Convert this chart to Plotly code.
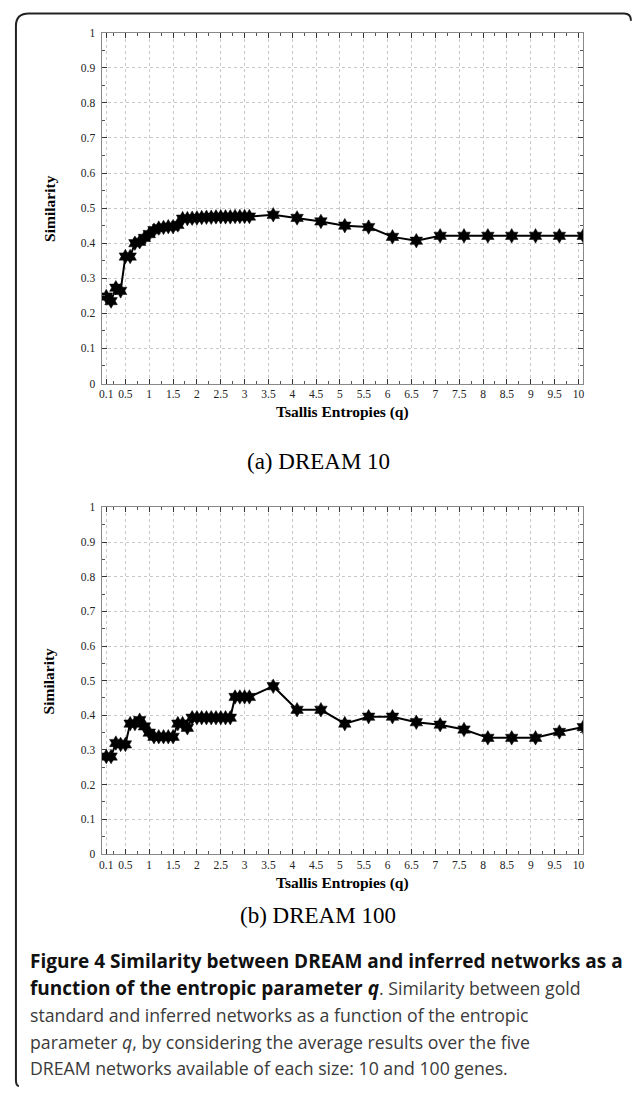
import plotly.graph_objects as go

W, H = 633, 1094

# ---- data ----
q_values = [round(0.1 * i, 1) for i in range(1, 32)] + [3.6, 4.1, 4.6, 5.1, 5.6, 6.1, 6.6, 7.1, 7.6, 8.1, 8.6, 9.1, 9.6, 10.1]

sim_dream10 = [0.248, 0.235, 0.273, 0.264, 0.362, 0.362, 0.400, 0.404, 0.415, 0.426,
               0.437, 0.443, 0.445, 0.447, 0.447, 0.452, 0.470, 0.470, 0.471, 0.472,
               0.473, 0.474, 0.474, 0.475, 0.475, 0.475, 0.475, 0.476, 0.476, 0.476,
               0.476,
               0.481, 0.472, 0.462, 0.450, 0.446, 0.418, 0.407, 0.421, 0.421, 0.421,
               0.421, 0.421, 0.421, 0.421]

sim_dream100 = [0.281, 0.281, 0.320, 0.316, 0.316, 0.376, 0.376, 0.386, 0.368, 0.350,
                0.338, 0.338, 0.338, 0.338, 0.338, 0.376, 0.376, 0.364, 0.393, 0.393,
                0.393, 0.393, 0.393, 0.393, 0.393, 0.393, 0.393, 0.453, 0.453, 0.453,
                0.453,
                0.484, 0.416, 0.416, 0.376, 0.396, 0.396, 0.380, 0.373, 0.359, 0.335,
                0.335, 0.335, 0.352, 0.366]

x_tickvals = [0.1, 0.5, 1, 1.5, 2, 2.5, 3, 3.5, 4, 4.5, 5, 5.5, 6, 6.5, 7, 7.5, 8, 8.5, 9, 9.5, 10]
x_ticktext = ["0.1", "0.5", "1", "1.5", "2", "2.5", "3", "3.5", "4", "4.5", "5", "5.5",
              "6", "6.5", "7", "7.5", "8", "8.5", "9", "9.5", "10"]
x_minor = [0.25 + 0.5 * i for i in range(20)]

panel_labels = ["(a) DREAM 10", "(b) DREAM 100"]
x_title = "Tsallis Entropies (q)"
y_title = "Similarity"

B = '<span style="font-size:19px;fill:#111"><b>%s</b></span>'
caption_lines = [
    B % "Figure 4 Similarity between DREAM and inferred networks as a",
    (B % "function of the entropic parameter <i>q</i>") + ". Similarity between gold",
    "standard and inferred networks as a function of the entropic",
    "parameter <i>q</i>, by considering the average results over the five",
    "DREAM networks available of each size: 10 and 100 genes.",
]

# ---- layout helpers (pixel -> paper) ----
def px(x):
    return x / W

def py(y):
    return 1 - y / H

plot_left, plot_right = 100, 584
panels = [(27, 381.7), (507, 857.3)]
panel_label_y = [461, 920]

fig = go.Figure()

series = [sim_dream10, sim_dream100]
for i, ys in enumerate(series):
    fig.add_trace(go.Scatter(
        x=q_values, y=ys, mode="lines+markers",
        line=dict(color="black", width=2),
        marker=dict(symbol="hexagram", size=11, color="black",
                    line=dict(color="black", width=0.5)),
        xaxis="x" if i == 0 else "x2",
        yaxis="y" if i == 0 else "y2",
        showlegend=False,
    ))

tick_font = dict(family="Liberation Serif", size=11.5, color="#222")
grid_color = "#c8c8c8"

def xaxis_cfg(anchor):
    return dict(
        domain=[px(plot_left), px(plot_right)], anchor=anchor,
        range=[0, 10.1], tickmode="array", tickvals=x_tickvals, ticktext=x_ticktext,
        ticks="inside", ticklen=5, tickcolor="#333", tickwidth=1,
        showline=True, linecolor="#888", linewidth=1, mirror="ticks",
        showgrid=True, gridcolor=grid_color, griddash="dot", gridwidth=1,
        zeroline=False, tickfont=tick_font, ticklabelstandoff=0,
        minor=dict(tickmode="array", tickvals=x_minor, ticks="inside", ticklen=3,
                   tickcolor="#555", showgrid=False),
    )

def yaxis_cfg(anchor, top, bottom):
    return dict(
        domain=[py(bottom), py(top)], anchor=anchor,
        range=[0, 1], tickmode="linear", tick0=0, dtick=0.1,
        ticks="inside", ticklen=5, tickcolor="#333", tickwidth=1,
        showline=True, linecolor="#888", linewidth=1, mirror="ticks",
        showgrid=True, gridcolor=grid_color, griddash="dot", gridwidth=1,
        zeroline=False, tickfont=tick_font, ticklabelstandoff=3,
        minor=dict(dtick=0.05, ticks="inside", ticklen=3, tickcolor="#555", showgrid=False),
    )

annotations = []
title_font = dict(family="Liberation Serif", size=15.5, color="black")
for i, (top, bottom) in enumerate(panels):
    annotations.append(dict(
        text="<b>%s</b>" % y_title, x=px(47), y=py((top + bottom) / 2),
        xref="paper", yref="paper", showarrow=False, textangle=-90,
        font=title_font, xanchor="center", yanchor="middle"))
    annotations.append(dict(
        text="<b>%s</b>" % x_title, x=px(342), y=py(bottom + 29),
        xref="paper", yref="paper", showarrow=False,
        font=title_font, xanchor="center", yanchor="middle"))
    annotations.append(dict(
        text=panel_labels[i], x=px(318), y=py(panel_label_y[i]),
        xref="paper", yref="paper", showarrow=False,
        font=dict(family="Liberation Serif", size=23, color="black"),
        xanchor="center", yanchor="middle"))

cap_y = [966, 993, 1020, 1047, 1074]
for line, yy in zip(caption_lines, cap_y):
    annotations.append(dict(
        text=line, x=px(26), y=py(yy), xref="paper", yref="paper",
        showarrow=False, xanchor="left", yanchor="middle",
        font=dict(family="Open Sans", size=17.7, color="#3a3a3a")))

border_pts = [(17, 1092), (14, 1092), (14, 1086), (14, 20), (14, 7.5), (27, 7.5), (625, 7.5), (632, 7.5), (632, 15)]
p = [(px(a), py(b)) for a, b in border_pts]
path = ("M %f,%f Q %f,%f %f,%f L %f,%f Q %f,%f %f,%f L %f,%f Q %f,%f %f,%f" % (
    p[0][0], p[0][1], p[1][0], p[1][1], p[2][0], p[2][1],
    p[3][0], p[3][1], p[4][0], p[4][1], p[5][0], p[5][1],
    p[6][0], p[6][1], p[7][0], p[7][1], p[8][0], p[8][1]))

fig.update_layout(
    width=W, height=H,
    margin=dict(l=0, r=0, t=0, b=0),
    paper_bgcolor="white", plot_bgcolor="white",
    xaxis=xaxis_cfg("y"),
    yaxis=yaxis_cfg("x", *panels[0]),
    xaxis2=xaxis_cfg("y2"),
    yaxis2=yaxis_cfg("x2", *panels[1]),
    annotations=annotations,
    shapes=[dict(type="path", path=path, xref="paper", yref="paper",
                 line=dict(color="#222", width=2))],
)

fig.write_html("out.html")
